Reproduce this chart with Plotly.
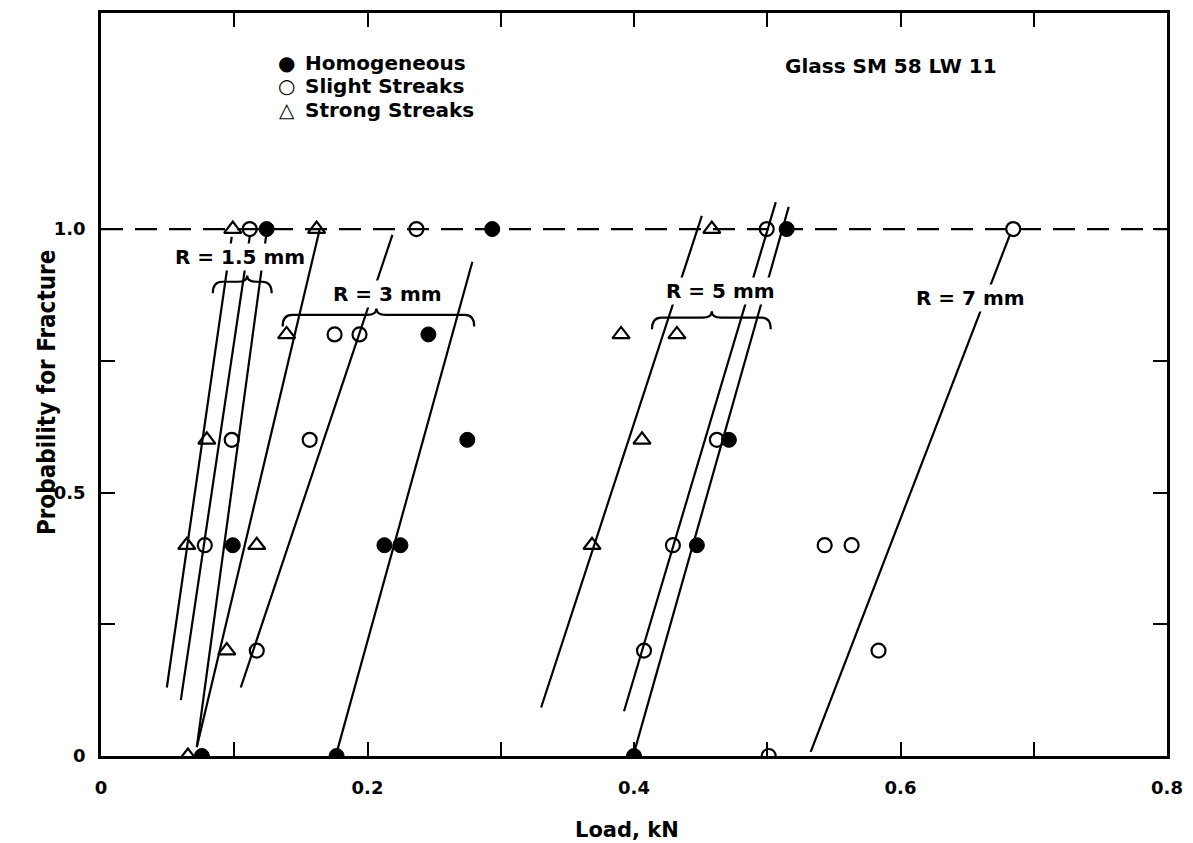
import plotly.graph_objects as go

# ---------------- data ----------------
homog_x = [0.1243, 0.2936, 0.5146, 0.2457, 0.2749, 0.4712, 0.0989, 0.2127, 0.2247, 0.4472, 0.0757, 0.1768, 0.4000]
homog_y = [1.0, 1.0, 1.0, 0.8, 0.6, 0.6, 0.4, 0.4, 0.4, 0.4, 0.0, 0.0, 0.0]

slight_x = [0.1116, 0.2367, 0.4996, 0.6846, 0.1753, 0.1940, 0.0981, 0.1566, 0.4622,
            0.0779, 0.4292, 0.5431, 0.5633, 0.1169, 0.4075, 0.5835, 0.5011]
slight_y = [1.0, 1.0, 1.0, 1.0, 0.8, 0.8, 0.6, 0.6, 0.6, 0.4, 0.4, 0.4, 0.4, 0.2, 0.2, 0.2, 0.0]

strong_x = [0.0989, 0.1618, 0.4584, 0.1393, 0.3903, 0.4322, 0.0794, 0.4060, 0.0644, 0.1169, 0.3685, 0.0944, 0.0652]
strong_y = [1.0, 1.0, 1.0, 0.8, 0.8, 0.8, 0.6, 0.6, 0.4, 0.4, 0.4, 0.2, 0.0]

# fitted straight lines (start / end points)
fit_x0 = [0.0494, 0.0599, 0.0719, 0.0719, 0.1049, 0.1768, 0.3303, 0.3925, 0.4000, 0.5326]
fit_y0 = [0.130, 0.106, 0.017, 0.017, 0.130, 0.006, 0.092, 0.085, 0.006, 0.008]
fit_x1 = [0.0981, 0.1116, 0.1243, 0.1640, 0.2187, 0.2787, 0.4509, 0.5064, 0.5161, 0.6824]
fit_y1 = [0.985, 0.985, 0.994, 0.998, 0.989, 0.938, 1.025, 1.051, 1.042, 0.991]

certain_p = 1.0

# key (legend) entries
key_symbols = ["\u25CF", "\u25CB", "\u25B3"]
key_labels = ["Homogeneous", "Slight Streaks", "Strong Streaks"]

# radius labels and their braces
r_labels = ["R = 1.5 mm", "R = 3 mm", "R = 5 mm", "R = 7 mm"]
r_label_x = [0.1041, 0.2150, 0.4652, 0.6524]
r_label_y = [0.947, 0.877, 0.883, 0.870]
brace_x0 = [0.0839, 0.1363, 0.4135]
brace_x1 = [0.1281, 0.2801, 0.5026]
brace_xm = [0.1097, 0.2067, 0.4584]
brace_y = [0.900, 0.837, 0.832]

x_tickvals = [0, 0.1, 0.2, 0.3, 0.4, 0.5, 0.6, 0.7, 0.8]
x_ticktext = ["0", "", "0.2", "", "0.4", "", "0.6", "", "0.8"]
y_tickvals = [0, 0.25, 0.5, 0.75, 1.0]
y_ticktext = ["0", "", "0.5", "", "1.0"]

FONT = "DejaVu Sans, Liberation Sans, Arial, sans-serif"

fig = go.Figure()

# fitted lines
lx, ly = [], []
for a, b, c, d in zip(fit_x0, fit_y0, fit_x1, fit_y1):
    lx += [a, c, None]
    ly += [b, d, None]
fig.add_trace(go.Scatter(x=lx, y=ly, mode="lines", line=dict(color="black", width=2.2),
                         showlegend=False, hoverinfo="skip"))

fig.add_trace(go.Scatter(x=homog_x, y=homog_y, mode="markers", name="Homogeneous",
                         marker=dict(symbol="circle", size=15, color="black",
                                     line=dict(color="black", width=1)), showlegend=False))
fig.add_trace(go.Scatter(x=slight_x, y=slight_y, mode="markers", name="Slight Streaks",
                         marker=dict(symbol="circle-open", size=14, color="black",
                                     line=dict(color="black", width=2.2)), showlegend=False))
fig.add_trace(go.Scatter(x=strong_x, y=strong_y, mode="markers", name="Strong Streaks",
                         marker=dict(symbol="triangle-up-open", size=15, color="black",
                                     line=dict(color="black", width=2.2)), showlegend=False))

shapes = [dict(type="line", xref="x", yref="y", x0=0, x1=0.8, y0=certain_p, y1=certain_p,
               line=dict(color="black", width=2.2, dash="22px,12px"), layer="below")]

def brace_path(x0, x1, xm, y, d=0.022, e=0.007, p=0.012):
    return (f"M {x0},{y-d} Q {x0},{y} {x0+e},{y} L {xm-e},{y} Q {xm},{y} {xm},{y+p} "
            f"Q {xm},{y} {xm+e},{y} L {x1-e},{y} Q {x1},{y} {x1},{y-d}")

for a, b, m, y in zip(brace_x0, brace_x1, brace_xm, brace_y):
    shapes.append(dict(type="path", xref="x", yref="y", path=brace_path(a, b, m, y),
                       line=dict(color="black", width=2.2)))

annotations = []
for t, x, y in zip(r_labels, r_label_x, r_label_y):
    annotations.append(dict(text=t, x=x, y=y, xref="x", yref="y", showarrow=False,
                            font=dict(family=FONT, size=20, color="black", weight="bold"),
                            bgcolor="white", borderpad=1))
annotations.append(dict(text="Glass SM 58 LW 11", x=0.5925, y=1.31, xref="x", yref="y",
                        showarrow=False,
                        font=dict(family=FONT, size=20, color="black", weight="bold")))

# key: symbol column + label column, rows 23.5 px apart
key_top_px = 60.0
plot_h = 843 - 10 - 87
for i, (s, t) in enumerate(zip(key_symbols, key_labels)):
    yp = (756 - (key_top_px + 23.5 * i)) / plot_h
    annotations.append(dict(text=s, x=(287 - 101) / 1068, y=yp, xref="paper", yref="paper",
                            showarrow=False, xanchor="center", yanchor="middle",
                            font=dict(family="DejaVu Sans", size=20, color="black", weight="bold")))
    annotations.append(dict(text=t, x=(303 - 101) / 1068, y=yp, xref="paper", yref="paper",
                            showarrow=False, xanchor="left", yanchor="middle",
                            font=dict(family=FONT, size=20, color="black", weight="bold")))

annotations.append(dict(text="Load, kN", x=0.4935, y=-0.099, xref="paper", yref="paper",
                        showarrow=False, yanchor="middle",
                        font=dict(family=FONT, size=21, color="black", weight="bold")))
annotations.append(dict(text="Probability for Fracture", x=-0.0655, y=0.49, xref="paper",
                        yref="paper", showarrow=False, textangle=-90,
                        font=dict(family="DejaVu Sans Condensed, Liberation Sans Narrow, DejaVu Sans",
                                  size=24, color="black", weight="bold")))

axis_common = dict(showline=True, linecolor="black", linewidth=2.5, mirror="allticks",
                   ticks="inside", ticklen=14, tickwidth=2.2, tickcolor="black",
                   showgrid=False, zeroline=False,
                   tickfont=dict(family=FONT, size=18, color="black", weight="bold"))

fig.update_layout(
    width=1193, height=843,
    margin=dict(l=101, r=24, t=10, b=87),
    paper_bgcolor="white", plot_bgcolor="white",
    xaxis=dict(range=[0, 0.8], tickvals=x_tickvals, ticktext=x_ticktext,
               ticklabelstandoff=14, **axis_common),
    yaxis=dict(range=[0, 1.41], tickvals=y_tickvals, ticktext=y_ticktext,
               ticklabelstandoff=9, **axis_common),
    shapes=shapes, annotations=annotations,
    showlegend=False,
)

fig.write_html("out.html", config={"displayModeBar": False},
               post_script="document.body.style.margin='0';document.body.style.overflow='hidden';")
